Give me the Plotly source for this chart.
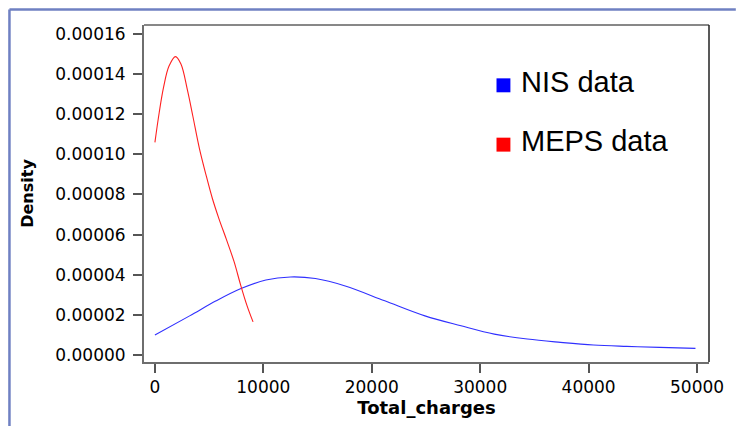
import plotly.graph_objects as go

# ---- data ----
meps_x = [0, 400, 800, 1300, 1900, 2400, 3000, 3500, 4100, 4700, 5300, 5900, 6600, 7300, 7900, 8500, 9050]
meps_y = [1.06e-4, 1.21e-4, 1.335e-4, 1.44e-4, 1.487e-4, 1.45e-4, 1.32e-4, 1.19e-4, 1.03e-4,
          0.90e-4, 0.78e-4, 0.68e-4, 0.575e-4, 0.465e-4, 0.35e-4, 0.245e-4, 0.165e-4]

nis_x = [0, 3200, 5650, 7940, 10230, 12500, 14800, 17550, 21200, 24900, 28230, 31300,
         34340, 37400, 40450, 43500, 46550, 49850]
nis_y = [0.994e-5, 1.95e-5, 2.70e-5, 3.31e-5, 3.74e-5, 3.89e-5, 3.81e-5, 3.44e-5, 2.70e-5,
         1.95e-5, 1.456e-5, 1.043e-5, 0.795e-5, 0.631e-5, 0.497e-5, 0.432e-5, 0.383e-5, 0.333e-5]

legend_labels = ["NIS data", "MEPS data"]
legend_colors = ["#0000ff", "#ff0000"]

x_ticks = [0, 10000, 20000, 30000, 40000, 50000]
y_ticks = [0, 0.00002, 0.00004, 0.00006, 0.00008, 0.00010, 0.00012, 0.00014, 0.00016]

# ---- layout geometry ----
W, H = 736, 426
ML, MR, MT, MB = 144, 23, 25, 63
PW, PH = W - ML - MR, H - MT - MB


def px(x):
    return (x - ML) / PW


def py(y):
    return (H - MB - y) / PH


fig = go.Figure()
fig.add_trace(go.Scatter(x=nis_x, y=nis_y, mode="lines", line=dict(color="#3030ff", width=1.1, shape="spline"),
                         name="NIS data", showlegend=False))
fig.add_trace(go.Scatter(x=meps_x, y=meps_y, mode="lines", line=dict(color="#ff2020", width=1.1, shape="spline"),
                         name="MEPS data", showlegend=False))

tickfont = dict(family="DejaVu Sans", size=17, color="#000000")
fig.update_xaxes(range=[-1007, 51099], tickvals=x_ticks, tickformat="d", showgrid=False, zeroline=False,
                 showline=True, linecolor="#6e6e6e", linewidth=2, ticks="outside", ticklen=9, tickwidth=1.5,
                 tickcolor="#555555", tickfont=tickfont,
                 title=dict(text="Total_charges", font=dict(family="DejaVu Sans", size=18, color="#000000",
                                                            weight="bold"), standoff=4))
fig.update_yaxes(range=[-3.48e-6, 164.47e-6], tickvals=y_ticks, tickformat=".5f", showgrid=False, zeroline=False,
                 showline=True, linecolor="#6e6e6e", linewidth=2, ticks="outside", ticklen=9, tickwidth=1.5,
                 tickcolor="#555555", tickfont=tickfont, ticklabelstandoff=4,
                 title=dict(text="Density", font=dict(family="DejaVu Sans", size=16, color="#000000",
                                                      weight="bold"), standoff=18))

shapes = [
    # plot box top / right borders
    dict(type="line", xref="paper", yref="paper", x0=0, x1=1, y0=1, y1=1, line=dict(color="#111111", width=1)),
    dict(type="line", xref="paper", yref="paper", x0=1, x1=1, y0=0, y1=1, line=dict(color="#222222", width=1.5)),
    # outer blue frame
    dict(type="line", xref="paper", yref="paper", x0=px(8.5), x1=px(740), y0=py(9.5), y1=py(9.5),
         line=dict(color="#6f80c2", width=2.5)),
    dict(type="line", xref="paper", yref="paper", x0=px(8.5), x1=px(8.5), y0=py(9.5), y1=py(430),
         line=dict(color="#6f80c2", width=2.5)),
]
annotations = []
sq_centers = [85.5, 145]
txt_centers = [82, 141.5]
for lab, col, sc, tc in zip(legend_labels, legend_colors, sq_centers, txt_centers):
    shapes.append(dict(type="rect", xref="paper", yref="paper", x0=px(499), x1=px(513), y0=py(sc - 7), y1=py(sc + 7),
                       fillcolor=col, line=dict(width=0)))
    annotations.append(dict(text=lab, xref="paper", yref="paper", x=px(522), y=py(tc), xanchor="left",
                            yanchor="middle", showarrow=False,
                            font=dict(family="Liberation Sans, Arial", size=29, color="#000000")))

fig.update_layout(width=W, height=H, margin=dict(l=ML, r=MR, t=MT, b=MB), paper_bgcolor="white",
                  plot_bgcolor="white", shapes=shapes, annotations=annotations, showlegend=False)

fig.write_html("out.html")
